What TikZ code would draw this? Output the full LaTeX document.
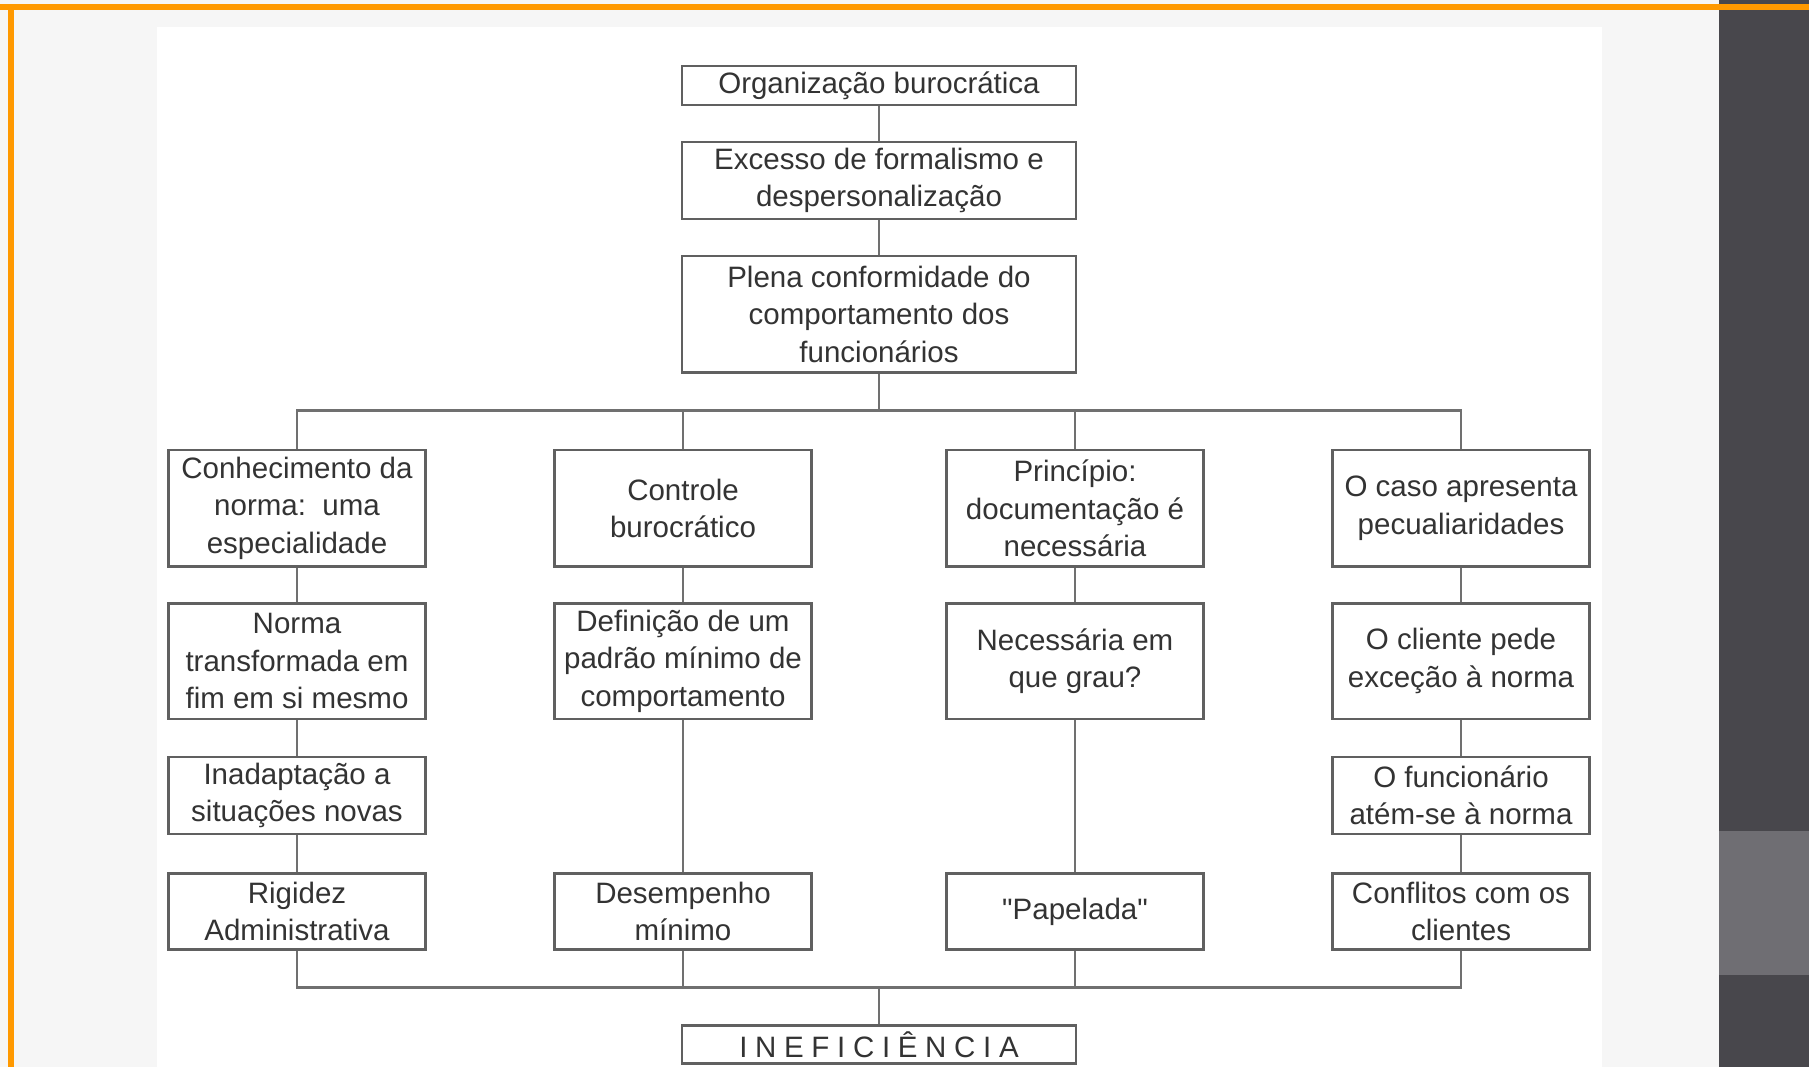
\documentclass[tikz,border=0pt]{standalone}
\usepackage{fontspec}
\setmainfont{Liberation Sans}[Ligatures=TeXOff]
\usepackage{tikz}
\usetikzlibrary{positioning}

\definecolor{orangebar}{RGB}{255,153,0}
\definecolor{panel}{RGB}{72,71,76}
\definecolor{panelband}{RGB}{111,110,115}
\definecolor{slidebg}{RGB}{246,246,246}
\definecolor{boxline}{RGB}{96,96,96}
\definecolor{connline}{RGB}{112,112,112}
\definecolor{txt}{RGB}{51,51,51}

\begin{document}
\begin{tikzpicture}[x=1pt,y=-1pt,
        box/.style={rectangle,draw=boxline,line width=2.6pt,fill=white,text=txt,align=center,
            inner sep=0pt,minimum width=257pt,font=\fontsize{29.5}{37.5}\selectfont},
        wide/.style={box,minimum width=394pt},
        link/.style={draw=connline,line width=2.6pt}]
        % slide background
        \useasboundingbox (0,0) rectangle (1809,1067);
        \fill[slidebg] (0,0) rectangle (1719,1067);
        \fill[white] (157,27) rectangle (1602,1067);
        \fill[panel] (1719,0) rectangle (1809,1067);
        \fill[panelband] (1719,831) rectangle (1809,975);
        \fill[orangebar] (0,4) rectangle (1809,10);
        \fill[orangebar] (8,10) rectangle (14,1067);

        % center column
        \node[wide,minimum height=39pt] (org) at (879,85.4) {Organização burocrática};
        \node[wide,minimum height=77pt] (excesso) at (879,180.5) {Excesso de formalismo e\\despersonalização};
        \node[wide,minimum height=116.7pt] (plena) at (879,314.4) {Plena conformidade do\\comportamento dos\\funcionários};

        % row 1
        \node[box,minimum height=116.5pt] (conhec) at (297,508.3) {Conhecimento da\\norma:\ \ uma\\especialidade};
        \node[box,minimum height=116.5pt] (controle) at (683,508.3) {Controle\\burocrático};
        \node[box,minimum height=116.5pt] (principio) at (1075,508.3) {Princípio:\\documentação é\\necessária};
        \node[box,minimum height=116.5pt] (caso) at (1461,508.3) {O caso apresenta\\pecualiaridades};

        % row 2
        \node[box,minimum height=115.4pt] (norma) at (297,661.1) {Norma\\transformada em\\fim em si mesmo};
        \node[box,minimum height=115.4pt] (definicao) at (683,661.1) {Definição de um\\padrão mínimo de\\comportamento};
        \node[box,minimum height=115.4pt] (necessaria) at (1075,661.1) {Necessária em\\que grau?};
        \node[box,minimum height=115.4pt] (cliente) at (1461,661.1) {O cliente pede\\exceção à norma};

        % row 3
        \node[box,minimum height=77pt] (inadapt) at (297,795.4) {Inadaptação a\\situações novas};
        \node[box,minimum height=77pt] (atem) at (1461,795.4) {O funcionário\\atém-se à norma};

        % row 4
        \node[box,minimum height=76pt] (rigidez) at (297,911.5) {Rigidez\\Administrativa};
        \node[box,minimum height=76pt] (desempenho) at (683,911.5) {Desempenho\\mínimo};
        \node[box,minimum height=76pt] (papelada) at (1075,911.5) {"Papelada"};
        \node[box,minimum height=76pt] (conflitos) at (1461,911.5) {Conflitos com os\\clientes};

        \node[wide,minimum height=38pt] (inef) at (879,1044.7) {\addfontfeatures{LetterSpace=26}INEFICIÊNCIA};

        \coordinate (topbus) at (879,410.7);
        \coordinate (botbus) at (879,987.6);

        \path[link] (org)        edge (excesso)
                    (excesso)    edge (plena)
                    (conhec)     edge (norma)
                    (norma)      edge (inadapt)
                    (inadapt)    edge (rigidez)
                    (controle)   edge (definicao)
                    (definicao)  edge (desempenho)
                    (principio)  edge (necessaria)
                    (necessaria) edge (papelada)
                    (caso)       edge (cliente)
                    (cliente)    edge (atem)
                    (atem)       edge (conflitos);

        \draw[link] (plena) -- (topbus);
        \draw[link] (conhec) |- (topbus) -| (caso);
        \draw[link] (controle) -- (controle |- topbus);
        \draw[link] (principio) -- (principio |- topbus);
        \draw[link] (rigidez) |- (botbus) -| (conflitos);
        \draw[link] (desempenho) -- (desempenho |- botbus);
        \draw[link] (papelada) -- (papelada |- botbus);
        \draw[link] (botbus) -- (inef);
\end{tikzpicture}
\end{document}
